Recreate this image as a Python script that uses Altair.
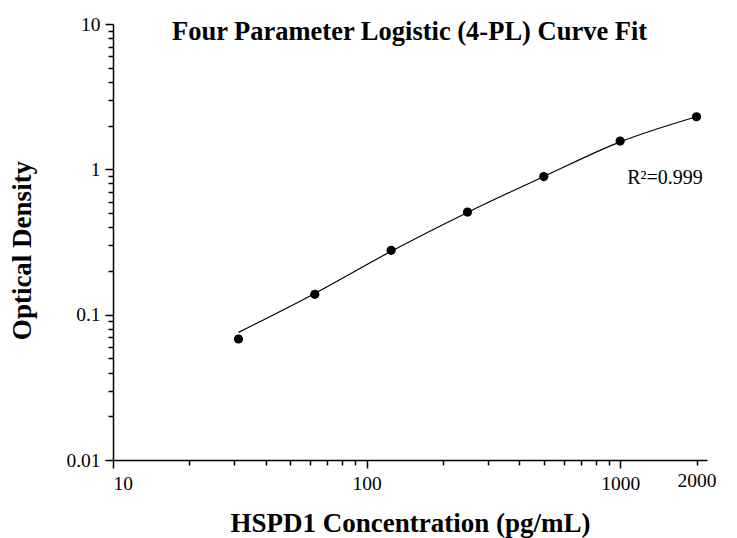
import altair as alt
import pandas as pd

# Measured standards
conc = [31.25, 62.5, 125, 250, 500, 1000, 2000]
od = [0.068, 0.138, 0.277, 0.508, 0.892, 1.565, 2.30]

# Fitted 4-PL curve
curve_conc = [31.25, 62.5, 125, 250, 500, 1000, 2000]
curve_od = [0.0755, 0.140, 0.273, 0.505, 0.893, 1.545, 2.30]

# Axis ticks
x_ticks = [10, 20, 30, 40, 50, 60, 70, 80, 90,
           100, 200, 300, 400, 500, 600, 700, 800, 900,
           1000, 2000]
x_labels = [10, 100, 1000, 2000]
x_major = [10, 100, 1000]
y_ticks = [0.01, 0.02, 0.03, 0.04, 0.05, 0.06, 0.07, 0.08, 0.09,
           0.1, 0.2, 0.3, 0.4, 0.5, 0.6, 0.7, 0.8, 0.9,
           1, 2, 3, 4, 5, 6, 7, 8, 9, 10]
y_labels = [0.01, 0.1, 1, 10]

# Annotation
r2_text = ["R²=0.999"]
r2_x = [1066]
r2_y = [0.79]

FONT = "Liberation Serif"

pts = pd.DataFrame({"conc": conc, "od": od})
curve = pd.DataFrame({"conc": curve_conc, "od": curve_od})
ann = pd.DataFrame({"conc": r2_x, "od": r2_y, "t": r2_text})


def lst(v):
    return "[" + ",".join(repr(x) for x in v) + "]"


x_scale = alt.Scale(type="log", domain=[10, 2200], nice=False)
y_scale = alt.Scale(type="log", domain=[0.01, 10], nice=False)

x_axis = alt.Axis(
    title="HSPD1 Concentration (pg/mL)",
    values=x_ticks,
    labelExpr=f"indexof({lst(x_labels)}, datum.value) >= 0 ? format(datum.value, 'd') : ''",
    tickSize={"condition": {"test": f"indexof({lst(x_major)}, datum.value) >= 0", "value": 8}, "value": 5},
    labelPadding=6,
    titlePadding=18,
    titleFontSize=27,
    grid=False,
)
y_axis = alt.Axis(
    title="Optical Density",
    values=y_ticks,
    labelExpr=f"indexof({lst(y_labels)}, datum.value) >= 0 ? format(datum.value, '~g') : ''",
    tickSize={"condition": {"test": f"indexof({lst(y_labels)}, datum.value) >= 0", "value": 8}, "value": 5},
    labelPadding=5,
    titlePadding=29,
    titleFontSize=27,
    titleY=226,
    grid=False,
)

line = alt.Chart(curve).mark_line(color="black", strokeWidth=1.2, interpolate="monotone").encode(
    x=alt.X("conc:Q", scale=x_scale, axis=x_axis),
    y=alt.Y("od:Q", scale=y_scale, axis=y_axis),
)
points = alt.Chart(pts).mark_point(filled=True, color="black", size=85, opacity=1).encode(
    x=alt.X("conc:Q", scale=x_scale),
    y=alt.Y("od:Q", scale=y_scale),
)
text = alt.Chart(ann).mark_text(
    font=FONT, fontSize=20, align="left", baseline="alphabetic", color="black"
).encode(
    x=alt.X("conc:Q", scale=x_scale),
    y=alt.Y("od:Q", scale=y_scale),
    text="t:N",
)

chart = alt.layer(line, points, text).properties(
    width=594,
    height=436,
    autosize=alt.AutoSizeParams(type="none"),
    padding={"left": 105, "top": 16, "right": 22, "bottom": 78},
    title=alt.TitleParams(
        "Four Parameter Logistic (4-PL) Curve Fit",
        anchor="start",
        frame="group",
        dx=59,
        offset=-52,
        baseline="alphabetic",
        font=FONT,
        fontSize=26.5,
        fontWeight="bold",
        color="black",
    ),
).configure_view(stroke=None).configure_axis(
    domainColor="black",
    domainWidth=1.5,
    tickColor="black",
    tickWidth=1.5,
    labelColor="black",
    labelFont=FONT,
    labelFontSize=19.5,
    titleFont=FONT,
    titleFontWeight="bold",
    titleColor="black",
)

chart.save("out.html", embed_options={"renderer": "svg", "actions": False})
